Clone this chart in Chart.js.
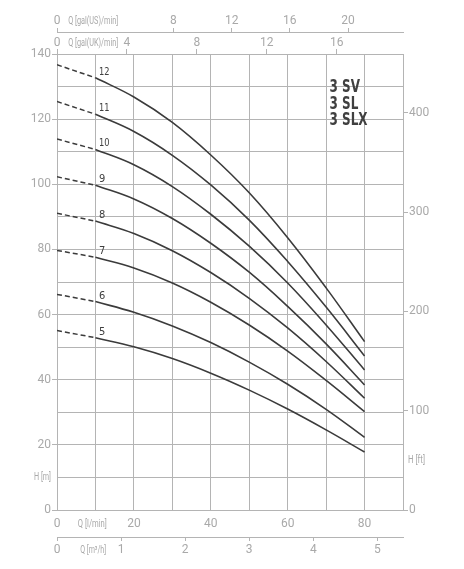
<!DOCTYPE html>
<html>
<head>
<meta charset="utf-8">
<script src="https://cdn.jsdelivr.net/npm/chart.js@4.4.0/dist/chart.umd.min.js"></script>
<style>
  html, body { margin: 0; padding: 0; background: #fff; }
  #wrap { width: 464px; height: 569px; }
</style>
</head>
<body>
<div id="wrap"><canvas id="pumpChart" width="464" height="569"></canvas></div>
<script>
// Q in l/min, H in m, one array per pump stage count
const flowLmin = [0, 10, 20, 30, 40, 50, 60, 70, 80];
const stageNames = ['5', '6', '7', '8', '9', '10', '11', '12'];
const head5  = [55.1, 52.9, 50.1, 46.5, 42.0, 36.8, 31.0, 24.6, 17.8];
const head6  = [66.2, 64.0, 60.7, 56.5, 51.4, 45.4, 38.6, 30.9, 22.3];
const head7  = [79.7, 77.6, 74.3, 69.7, 63.8, 56.8, 48.8, 39.8, 30.2];
const head8  = [91.1, 88.7, 84.9, 79.6, 72.9, 65.0, 55.9, 45.6, 34.3];
const head9  = [102.3, 99.7, 95.5, 89.5, 81.9, 73.0, 62.5, 51.0, 38.4];
const head10 = [113.9, 110.7, 106.0, 99.3, 90.8, 81.0, 69.7, 56.8, 43.0];
const head11 = [125.4, 121.5, 116.2, 108.9, 99.8, 89.0, 76.3, 62.3, 47.3];
const head12 = [136.7, 132.7, 126.8, 119.0, 109.0, 97.4, 83.6, 68.2, 51.7];
const headByStage = [head5, head6, head7, head8, head9, head10, head11, head12];

// tick labels of the axes
const lminLabels = [0, 20, 40, 60, 80];
const m3hTicks = [0, 1, 2, 3, 4, 5];
const galUKTicks = [0, 4, 8, 12, 16];
const galUSTicks = [0, 8, 12, 16, 20];
const ftTicks = [0, 100, 200, 300, 400];
const mLabelStep = 20;

const Q_MAX = 90;
const H_MAX = 140;
const L_PER_GAL_UK = 4.54609;
const L_PER_GAL_US = 3.78541;
const FT_PER_M = 3.28084;
const M3H_PER_LMIN = 0.06;

const gridColor = '#b4b4b4';
const tickText = '#a9a9a9';
const curveColor = '#3b3b3b';
const tickFont = { family: 'Roboto', size: 12, lineHeight: 1 };
const hidden = 'rgba(0,0,0,0)';

const datasets = [];
headByStage.forEach((heads, i) => {
    datasets.push({
        label: stageNames[i],
        data: flowLmin.slice(1).map((q, j) => ({ x: q, y: heads[j + 1] })),
        borderColor: curveColor,
        borderWidth: 1.6,
        pointRadius: 0,
        tension: 0.4,
        xAxisID: 'x',
        yAxisID: 'y'
    });
    datasets.push({
        label: stageNames[i] + ' (dashed)',
        data: flowLmin.slice(0, 2).map((q, j) => ({ x: q, y: heads[j] })),
        borderColor: curveColor,
        borderWidth: 1.5,
        borderDash: [5, 3],
        pointRadius: 0,
        xAxisID: 'x',
        yAxisID: 'y'
    });
});

function fixedTicks(list) {
    return scale => { scale.ticks = list.map(v => ({ value: v })); };
}

// text squeezed horizontally to a given width (the original uses a narrow font)
function squeezed(ctx, text, x, y, width, align) {
    const w = ctx.measureText(text).width;
    const k = Math.min(1, width / w);
    ctx.save();
    ctx.translate(x, y);
    ctx.scale(k, 1);
    const dx = align === 'center' ? -w / 2 : align === 'right' ? -w : 0;
    ctx.textAlign = 'left';
    ctx.fillText(text, dx, 0);
    ctx.restore();
}

const labelPlugin = {
    id: 'pumpLabels',
    afterDraw(chart) {
        const { ctx, scales } = chart;
        const xs = scales.x, ys = scales.y;
        ctx.save();

        // stage numbers above each curve, at the start of the solid part
        ctx.fillStyle = '#404040';
        ctx.font = '11px "DejaVu Sans Condensed", "DejaVu Sans", sans-serif';
        ctx.textBaseline = 'alphabetic';
        headByStage.forEach((heads, i) => {
            const px = xs.getPixelForValue(flowLmin[1]) + 3.5;
            const py = ys.getPixelForValue(heads[1]) - 3;
            squeezed(ctx, stageNames[i], px, py, 10.5, 'left');
        });

        // axis titles
        ctx.fillStyle = tickText;
        ctx.font = '10px Roboto, sans-serif';
        ctx.textBaseline = 'middle';
        const qx = xs.getPixelForValue(9.4);
        squeezed(ctx, 'Q [gal(US)/min]', qx, scales.galUS.bottom - 11, 50, 'center');
        squeezed(ctx, 'Q [gal(UK)/min]', qx, scales.galUK.bottom - 11, 50, 'center');
        squeezed(ctx, 'Q [l/min]', xs.getPixelForValue(9.2), xs.top + 14, 29, 'center');
        squeezed(ctx, 'Q [m³/h]', xs.getPixelForValue(9.4), scales.m3h.top + 13.5, 26, 'center');
        squeezed(ctx, 'H [m]', ys.left + 51, ys.getPixelForValue(10), 17, 'right');
        squeezed(ctx, 'H [ft]', scales.ft.left + 5, scales.ft.getPixelForValue(50), 17, 'left');

        // model name block
        ctx.fillStyle = '#404040';
        ctx.font = 'bold 17px "DejaVu Sans Condensed", "DejaVu Sans", sans-serif';
        ctx.textBaseline = 'alphabetic';
        const k = 38 / ctx.measureText('3 SLX').width;
        const mx = xs.getPixelForValue(70.9);
        ['3 SV', '3 SL', '3 SLX'].forEach((t, i) => {
            const my = ys.getPixelForValue([128.3, 123.2, 118.1][i]);
            squeezed(ctx, t, mx, my, ctx.measureText(t).width * k, 'left');
        });
        ctx.restore();
    }
};

new Chart(document.getElementById('pumpChart'), {
    type: 'line',
    data: { datasets },
    options: {
        responsive: false,
        animation: false,
        devicePixelRatio: 1,
        layout: { padding: 0 },
        plugins: { legend: { display: false }, tooltip: { enabled: false } },
        scales: {
            x: {
                type: 'linear', position: 'bottom', weight: 0,
                min: 0, max: Q_MAX,
                afterBuildTicks: fixedTicks([0, 10, 20, 30, 40, 50, 60, 70, 80, 90]),
                afterFit: s => { s.height = 27; },
                grid: { color: gridColor, lineWidth: 1, drawTicks: false },
                border: { display: true, color: gridColor },
                ticks: {
                    padding: 8, color: tickText, font: tickFont, maxRotation: 0, autoSkip: false,
                    callback: v => lminLabels.includes(v) ? String(v) : ''
                }
            },
            m3h: {
                type: 'linear', position: 'bottom', weight: 1,
                min: 0, max: Q_MAX * M3H_PER_LMIN,
                afterBuildTicks: fixedTicks(m3hTicks),
                afterFit: s => { s.height = 32; },
                grid: { drawOnChartArea: false, tickLength: 4, tickColor: gridColor },
                border: { display: true, color: gridColor },
                ticks: { padding: 3, color: tickText, font: tickFont, maxRotation: 0, autoSkip: false }
            },
            galUK: {
                type: 'linear', position: 'top', weight: 1,
                min: 0, max: Q_MAX / L_PER_GAL_UK,
                afterBuildTicks: fixedTicks(galUKTicks),
                afterFit: s => { s.height = 22; },
                grid: { drawOnChartArea: false, tickLength: 5, tickColor: gridColor },
                border: { display: true, color: gridColor },
                ticks: { padding: 0, color: tickText, font: tickFont, maxRotation: 0, autoSkip: false }
            },
            galUS: {
                type: 'linear', position: 'top', weight: 2,
                min: 0, max: Q_MAX / L_PER_GAL_US,
                afterBuildTicks: fixedTicks(galUSTicks),
                afterFit: s => { s.height = 32; },
                grid: { drawOnChartArea: false, tickLength: 4, tickColor: gridColor },
                border: { display: true, color: gridColor },
                ticks: { padding: 1, color: tickText, font: tickFont, maxRotation: 0, autoSkip: false }
            },
            y: {
                type: 'linear', position: 'left',
                min: 0, max: H_MAX,
                afterBuildTicks: fixedTicks(Array.from({ length: H_MAX / 10 + 1 }, (_, i) => i * 10)),
                afterFit: s => { s.width = 57; },
                grid: {
                    color: gridColor, lineWidth: 1, tickLength: 5,
                    tickColor: c => c.tick && c.tick.value % mLabelStep === 0 ? gridColor : hidden
                },
                border: { display: true, color: gridColor },
                ticks: {
                    padding: 1, color: tickText, font: tickFont, autoSkip: false,
                    callback: v => v % mLabelStep === 0 ? String(v) : ''
                }
            },
            ft: {
                type: 'linear', position: 'right',
                min: 0, max: H_MAX * FT_PER_M,
                afterBuildTicks: fixedTicks(ftTicks),
                afterFit: s => { s.width = 61; },
                grid: { drawOnChartArea: false, tickLength: 5, tickColor: gridColor },
                border: { display: true, color: gridColor },
                ticks: { padding: 1, color: tickText, font: tickFont, autoSkip: false }
            }
        }
    },
    plugins: [labelPlugin]
});
</script>
</body>
</html>
